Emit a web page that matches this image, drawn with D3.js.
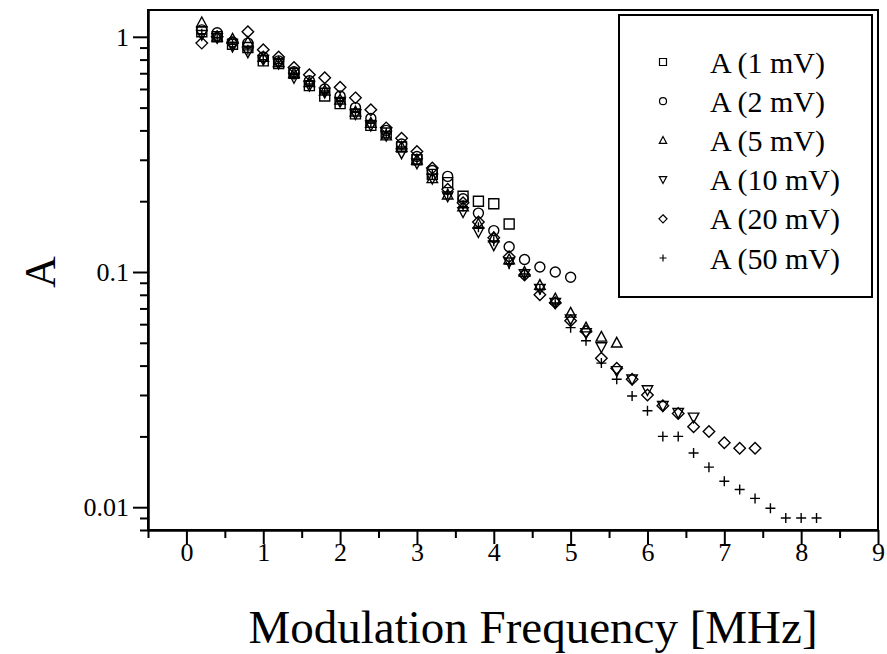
<!DOCTYPE html>
<html>
<head>
<meta charset="utf-8">
<script src="https://cdn.jsdelivr.net/npm/d3@7"></script>
<style>
  body { margin: 0; background: #fff; }
  svg { display: block; }
  .axis path, .axis line { stroke: #000; stroke-width: 2; }
</style>
</head>
<body>
<div id="chart"></div>
<script>
const serif = '"Liberation Serif", "Times New Roman", Tinos, "DejaVu Serif", serif';

// frequency grid (MHz) shared by all series
const freq = [0.2, 0.4, 0.6, 0.8, 1.0, 1.2, 1.4, 1.6, 1.8, 2.0, 2.2, 2.4, 2.6, 2.8, 3.0, 3.2, 3.4, 3.6, 3.8, 4.0,
	4.2, 4.4, 4.6, 4.8, 5.0, 5.2, 5.4, 5.6, 5.8, 6.0, 6.2, 6.4, 6.6, 6.8, 7.0, 7.2, 7.4, 7.6, 7.8, 8.0, 8.2];

// amplitude per series (series use the first n frequencies)
const a1mV = [1.05, 1.0, 0.93, 0.90, 0.79, 0.77, 0.70, 0.62, 0.56, 0.52, 0.47, 0.42, 0.39, 0.34, 0.30, 0.26, 0.24, 0.21, 0.20, 0.195, 0.16];
const a2mV = [1.07, 1.04, 0.95, 0.94, 0.82, 0.79, 0.71, 0.65, 0.60, 0.56, 0.50, 0.45, 0.40, 0.35, 0.31, 0.27, 0.255, 0.205, 0.178, 0.15,
	0.128, 0.113, 0.105, 0.100, 0.095];
const a5mV = [1.15, 1.0, 0.98, 0.95, 0.82, 0.78, 0.70, 0.64, 0.59, 0.54, 0.48, 0.43, 0.38, 0.34, 0.30, 0.25, 0.213, 0.19, 0.16, 0.14,
	0.113, 0.10, 0.088, 0.077, 0.067, 0.058, 0.053, 0.050];
const a10mV = [1.02, 0.99, 0.91, 0.86, 0.80, 0.77, 0.67, 0.62, 0.58, 0.53, 0.47, 0.42, 0.38, 0.32, 0.29, 0.25, 0.21, 0.18, 0.148, 0.13,
	0.11, 0.098, 0.085, 0.074, 0.063, 0.055, 0.048, 0.038, 0.035, 0.0315, 0.027, 0.0252, 0.0241];
const a20mV = [0.94, 1.0, 0.94, 1.05, 0.88, 0.82, 0.74, 0.69, 0.67, 0.61, 0.55, 0.49, 0.41, 0.37, 0.325, 0.277, 0.225, 0.197, 0.163, 0.14,
	0.116, 0.097, 0.080, 0.074, 0.062, 0.056, 0.043, 0.039, 0.035, 0.030, 0.027, 0.025, 0.022, 0.021, 0.0188, 0.0178, 0.0178];
const a50mV = [1.03, 0.99, 0.93, 0.88, 0.80, 0.77, 0.69, 0.63, 0.58, 0.53, 0.48, 0.43, 0.39, 0.34, 0.30, 0.26, 0.215, 0.19, 0.155, 0.135,
	0.108, 0.098, 0.084, 0.073, 0.058, 0.051, 0.041, 0.035, 0.0297, 0.0257, 0.020, 0.020, 0.017, 0.0148, 0.0129, 0.0119, 0.0109, 0.0099, 0.0090, 0.0090, 0.0090];

const seriesNames = ["A (1 mV)", "A (2 mV)", "A (5 mV)", "A (10 mV)", "A (20 mV)", "A (50 mV)"];
const seriesShapes = ["square", "circle", "triangleUp", "triangleDown", "diamond", "plus"];
const seriesValues = [a1mV, a2mV, a5mV, a10mV, a20mV, a50mV];

const xMajorTicks = [0, 1, 2, 3, 4, 5, 6, 7, 8, 9];
const yMajorTicks = [0.01, 0.1, 1];
const yTickLabels = ["0.01", "0.1", "1"];

let width = 887;
let height = 654;
let plot = { left: 148, right: 878, top: 10, bottom: 530 };

let xScale = d3.scaleLinear()
	.domain([-0.5, 9])
	.range([plot.left, plot.right]);

let yScale = d3.scaleLog()
	.domain([0.008, 1.3])
	.range([plot.bottom, plot.top]);

// minor ticks: halves on x, 2..9 per decade on y
let xMinor = xMajorTicks.map(d => d - 0.5);
let yMinor = [];
[0.001, 0.01, 0.1].forEach(dec => {
	for (let k = 2; k <= 9; k++) {
		let v = dec * k;
		if (v >= 0.008 && v <= 1.3) yMinor.push(v);
	}
});

let svg = d3.select('#chart')
	.append('svg')
	.attr('width', width)
	.attr('height', height)
	.style('font-family', serif);

// marker path generator
function markerPath(shape, s) {
	let h = s / 2;
	switch (shape) {
		case "square": return `M${-h},${-h}H${h}V${h}H${-h}Z`;
		case "circle": return `M${h},0A${h},${h} 0 1,1 ${-h},0A${h},${h} 0 1,1 ${h},0Z`;
		case "triangleUp": return `M0,${-h * 1.1}L${h * 1.05},${h * 0.85}L${-h * 1.05},${h * 0.85}Z`;
		case "triangleDown": return `M0,${h * 1.1}L${h * 1.05},${-h * 0.85}L${-h * 1.05},${-h * 0.85}Z`;
		case "diamond": return `M0,${-h * 1.15}L${h * 1.15},0L0,${h * 1.15}L${-h * 1.15},0Z`;
		case "plus": return `M${-h},0H${h}M0,${-h}V${h}`;
	}
}

function styleAxis(g) {
	g.attr('font-family', null).attr('font-size', null);
	g.selectAll('text')
		.style('font-family', serif)
		.style('font-size', '26px')
		.attr('fill', '#000');
}

// axes
svg.append('g')
	.attr('class', 'axis')
	.attr('transform', `translate(0,${plot.bottom})`)
	.call(d3.axisBottom(xScale).tickValues(xMinor).tickSize(8).tickSizeOuter(0).tickFormat(''));

svg.append('g')
	.attr('class', 'axis')
	.attr('transform', `translate(0,${plot.bottom})`)
	.call(d3.axisBottom(xScale).tickValues(xMajorTicks).tickSize(14).tickSizeOuter(0).tickPadding(-1).tickFormat(d3.format('d')))
	.call(styleAxis);

svg.append('g')
	.attr('class', 'axis')
	.attr('transform', `translate(${plot.left},0)`)
	.call(d3.axisLeft(yScale).tickValues(yMinor).tickSize(8).tickSizeOuter(0).tickFormat(''));

svg.append('g')
	.attr('class', 'axis')
	.attr('transform', `translate(${plot.left},0)`)
	.call(d3.axisLeft(yScale).tickValues(yMajorTicks).tickSize(15).tickSizeOuter(0).tickPadding(4)
		.tickFormat((d, i) => yTickLabels[i]))
	.call(styleAxis);

// frame
svg.append('rect')
	.attr('x', plot.left)
	.attr('y', plot.top)
	.attr('width', plot.right - plot.left)
	.attr('height', plot.bottom - plot.top)
	.attr('fill', 'none')
	.attr('stroke', '#000')
	.attr('stroke-width', 2);

// data markers
seriesValues.forEach((vals, si) => {
	svg.append('g')
		.selectAll('path')
		.data(vals)
		.enter()
		.append('path')
		.attr('transform', (d, i) => `translate(${xScale(freq[i])},${yScale(d)})`)
		.attr('d', markerPath(seriesShapes[si], 10))
		.attr('fill', 'none')
		.attr('stroke', '#000')
		.attr('stroke-width', 1.4);
});

// legend
let legend = svg.append('g');
legend.append('rect')
	.attr('x', 619)
	.attr('y', 15)
	.attr('width', 253)
	.attr('height', 282)
	.attr('fill', '#fff')
	.attr('stroke', '#000')
	.attr('stroke-width', 2);

seriesNames.forEach((name, i) => {
	let y = 62 + i * 39.2;
	legend.append('path')
		.attr('transform', `translate(663,${y})`)
		.attr('d', markerPath(seriesShapes[i], 7))
		.attr('fill', 'none')
		.attr('stroke', '#000')
		.attr('stroke-width', 1.2);
	legend.append('text')
		.attr('x', 710)
		.attr('y', y)
		.attr('dy', '0.35em')
		.style('font-family', serif)
		.style('font-size', '30px')
		.text(name);
});

// axis titles
svg.append('text')
	.attr('x', 533)
	.attr('y', 643)
	.style('text-anchor', 'middle')
	.style('font-family', serif)
	.style('font-size', '47px')
	.text('Modulation Frequency [MHz]');

svg.append('text')
	.attr('transform', 'rotate(-90)')
	.attr('x', -272)
	.attr('y', 55)
	.style('text-anchor', 'middle')
	.style('font-family', serif)
	.style('font-size', '44px')
	.text('A');
</script>
</body>
</html>
